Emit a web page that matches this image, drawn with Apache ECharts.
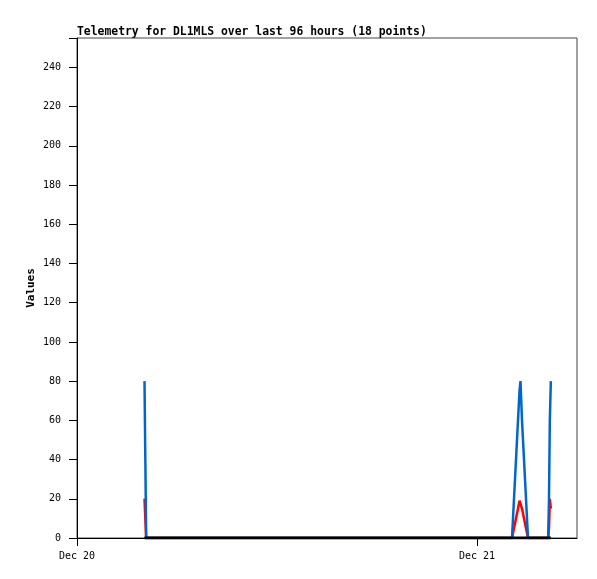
<!DOCTYPE html>
<html><head><meta charset="utf-8">
<script src="https://cdn.jsdelivr.net/npm/echarts@6/dist/echarts.min.js"></script>
<style>html,body{margin:0;padding:0;background:#fff}#c{width:597px;height:579px}</style>
</head><body><div id="c"></div>
<script>
// hours since Dec 20 00:00
const hours = [4.05, 4.10, 4.15, 26.10, 26.22, 26.34, 26.46, 26.55, 26.61, 26.70, 26.82, 26.94, 27.06, 28.27, 28.32, 28.37, 28.43];
const chanBlue = [80, 40, 0, 0, 20, 40, 60, 75, 80, 60, 40, 20, 0, 0, 20, 60, 80];
const chanRed  = [20, 10, 0, 0, 5, 10, 15, 19, 20, 15, 10, 5, 0, 0, 5, 20, 15];
const chanBlack = [0, 0, 0, 0, 0, 0, 0, 0, 0, 0, 0, 0, 0, 0, 0, 0, 0];
const xTickHours = [0, 24];
const xTickLabels = ['Dec 20', 'Dec 21'];
const yTicks = [0, 20, 40, 60, 80, 100, 120, 140, 160, 180, 200, 220, 240];

const pair = (vals) => hours.map((h, i) => [h, vals[i]]);
const mono = 'DejaVu Sans Mono';
const chart = echarts.init(document.getElementById('c'), null, {renderer: 'canvas'});
chart.setOption({
  animation: false,
  backgroundColor: '#fff',
  title: {
    text: 'Telemetry for DL1MLS over last 96 hours (18 points)',
    left: 72, top: 22,
    textStyle: {fontFamily: mono, fontSize: 11.4, fontWeight: 'bold', color: '#000'}
  },
  grid: {left: 77, right: 20, top: 38, bottom: 41, show: true, borderColor: '#444', borderWidth: 1},
  xAxis: {
    type: 'value', min: 0, max: 30, interval: 24,
    axisLine: {show: true, onZero: false, lineStyle: {color: '#000', width: 1}},
    axisTick: {show: true, length: 8, lineStyle: {color: '#000'}},
    splitLine: {show: false},
    axisLabel: {
      fontFamily: mono, fontSize: 10, color: '#000', margin: 13, showMaxLabel: false,
      formatter: (v) => { const i = xTickHours.indexOf(v); return i >= 0 ? xTickLabels[i] : ''; }
    }
  },
  yAxis: {
    type: 'value', min: 0, max: 255, interval: 20,
    name: 'Values', nameLocation: 'middle', nameRotate: 90, nameGap: 40, nameMoveOverlap: false,
    nameTextStyle: {fontFamily: mono, fontSize: 11, fontWeight: 'bold', color: '#000'},
    axisLine: {show: true, lineStyle: {color: '#000', width: 1}},
    axisTick: {show: true, length: 8, lineStyle: {color: '#000'}},
    splitLine: {show: false},
    axisLabel: {
      fontFamily: mono, fontSize: 10, color: '#000', margin: 16,
      formatter: (v) => yTicks.indexOf(v) >= 0 ? String(v) : ''
    }
  },
  series: [
    {type: 'line', data: pair(chanRed), symbol: 'none', lineStyle: {color: '#ff0000', width: 2.5}, z: 2},
    {type: 'line', data: pair(chanBlue), symbol: 'none', lineStyle: {color: '#0066cc', width: 2.5}, z: 3},
    {type: 'line', data: pair(chanBlack), symbol: 'none', lineStyle: {color: '#000', width: 3}, z: 4}
  ]
});
</script></body></html>
